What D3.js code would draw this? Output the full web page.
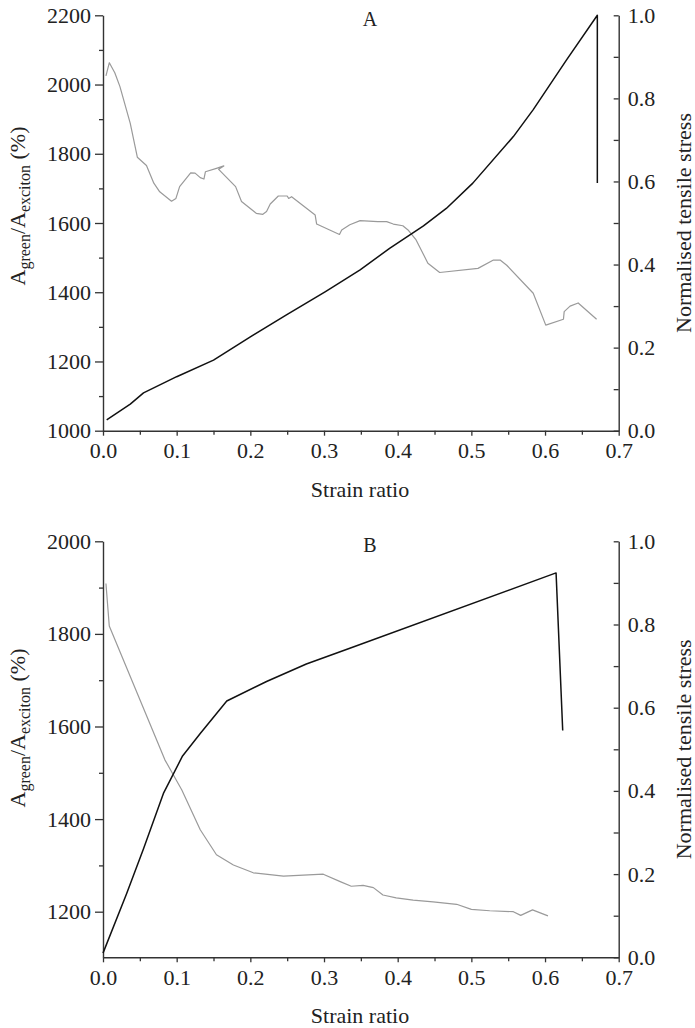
<!DOCTYPE html>
<html>
<head>
<meta charset="utf-8">
<script src="https://cdn.jsdelivr.net/npm/d3@7/dist/d3.min.js"></script>
<style>
  html, body { margin: 0; padding: 0; background: #fff; }
  svg { display: block; }
  svg text { font-family: 'Liberation Serif', 'Times New Roman', 'DejaVu Serif', serif !important; fill: #222; }
</style>
</head>
<body>
<svg id="chart" width="695" height="1028"></svg>
<script>
// ---------------- DATA ----------------
// Panel A
const aStressX = [0.005, 0.037, 0.055, 0.100, 0.150, 0.200, 0.249, 0.302, 0.349, 0.389, 0.435, 0.466, 0.502, 0.557, 0.584, 0.629, 0.671, 0.671];
const aStressY = [0.026, 0.064, 0.091, 0.130, 0.170, 0.226, 0.279, 0.335, 0.387, 0.439, 0.493, 0.535, 0.596, 0.708, 0.773, 0.892, 1.000, 0.596];
const aRatioX = [0.004, 0.0086, 0.016, 0.023, 0.037, 0.0466, 0.059, 0.069, 0.077, 0.093, 0.099, 0.104, 0.119, 0.125, 0.132, 0.137, 0.139, 0.154, 0.164, 0.157, 0.180, 0.188, 0.208, 0.217, 0.222, 0.227, 0.238, 0.250, 0.252, 0.256, 0.288, 0.290, 0.321, 0.324, 0.335, 0.349, 0.373, 0.385, 0.394, 0.407, 0.414, 0.425, 0.441, 0.457, 0.509, 0.530, 0.539, 0.548, 0.584, 0.601, 0.625, 0.626, 0.634, 0.645, 0.670];
const aRatioY = [2025, 2063, 2034, 1994, 1888, 1790, 1766, 1715, 1690, 1663, 1671, 1705, 1745, 1744, 1731, 1727, 1748, 1758, 1765, 1755, 1705, 1662, 1628, 1625, 1633, 1655, 1678, 1678, 1671, 1676, 1623, 1597, 1567, 1580, 1595, 1607, 1604, 1604, 1597, 1592, 1580, 1551, 1484, 1457, 1469, 1493, 1493, 1478, 1397, 1305, 1322, 1344, 1360, 1369, 1322];

// Panel B
const bStressX = [0.000, 0.032, 0.055, 0.082, 0.108, 0.132, 0.168, 0.222, 0.276, 0.335, 0.615, 0.624];
const bStressY = [0.010, 0.153, 0.261, 0.394, 0.484, 0.538, 0.616, 0.663, 0.705, 0.743, 0.924, 0.545];
const bRatioX = [0.004, 0.0085, 0.084, 0.107, 0.132, 0.154, 0.177, 0.204, 0.245, 0.299, 0.322, 0.337, 0.353, 0.367, 0.380, 0.398, 0.421, 0.448, 0.480, 0.500, 0.525, 0.557, 0.567, 0.583, 0.604];
const bRatioY = [1909, 1817, 1528, 1463, 1377, 1323, 1301, 1284, 1277, 1281, 1265, 1255, 1257, 1252, 1236, 1230, 1225, 1221, 1216, 1205, 1202, 1200, 1192, 1204, 1191];

// Ticks
const xTicks = [0.0, 0.1, 0.2, 0.3, 0.4, 0.5, 0.6, 0.7];
const xMinor = [0.05, 0.15, 0.25, 0.35, 0.45, 0.55, 0.65];
const aLeftTicks = [1000, 1200, 1400, 1600, 1800, 2000, 2200];
const aLeftMinor = [1100, 1300, 1500, 1700, 1900, 2100];
const bLeftTicks = [1200, 1400, 1600, 1800, 2000];
const bLeftMinor = [1300, 1500, 1700, 1900];
const rightTicks = [0.0, 0.2, 0.4, 0.6, 0.8, 1.0];
const rightMinor = [0.1, 0.3, 0.5, 0.7, 0.9];
const panelLabels = ["A", "B"];
const xTitle = "Strain ratio";
const rightTitle = "Normalised tensile stress";

// ---------------- DRAW ----------------
const svg = d3.select("#chart");
const FS = 22;
const FONT = "'Liberation Serif', 'Times New Roman', 'DejaVu Serif', serif";

function zip(xs, ys) { return xs.map((x, i) => [x, ys[i]]); }

function panel(cfg) {
  const x = d3.scaleLinear().domain([0, 0.7]).range([103, 618.7]);
  const yL = d3.scaleLinear().domain(cfg.leftDomain).range([cfg.bottom, cfg.top]);
  const yR = d3.scaleLinear().domain([0, 1]).range([cfg.bottom, cfg.top]);
  const g = svg.append("g").style("font-family", FONT);

  const styleAxis = sel => {
    sel.attr("font-family", null).style("font-family", FONT);
    sel.select(".domain").attr("stroke", "#333").attr("stroke-width", 1.4);
    sel.selectAll(".tick line").attr("stroke", "#333").attr("stroke-width", 1.3);
    sel.selectAll(".tick text").attr("font-size", FS).attr("fill", "#222").style("font-family", FONT);
  };
  const styleMinor = s => {
    s.select(".domain").remove();
    s.selectAll(".tick line").attr("stroke", "#333").attr("stroke-width", 1.3);
  };

  // bottom axis
  g.append("g").attr("transform", `translate(0,${cfg.bottom})`)
    .call(d3.axisBottom(x).tickValues(xTicks).tickFormat(d3.format(".1f")).tickSizeInner(5).tickSizeOuter(0).tickPadding(7))
    .call(styleAxis);
  g.append("g").attr("transform", `translate(0,${cfg.bottom})`)
    .call(d3.axisBottom(x).tickValues(xMinor).tickFormat("").tickSizeInner(4).tickSizeOuter(0))
    .call(styleMinor);

  // left axis
  g.append("g").attr("transform", `translate(103,0)`)
    .call(d3.axisLeft(yL).tickValues(cfg.leftTicks).tickFormat(d3.format("d")).tickSizeInner(8).tickSizeOuter(0).tickPadding(4))
    .call(styleAxis);
  g.append("g").attr("transform", `translate(103,0)`)
    .call(d3.axisLeft(yL).tickValues(cfg.leftMinor).tickFormat("").tickSizeInner(4).tickSizeOuter(0))
    .call(styleMinor);

  // right axis (ticks pointing inward)
  g.append("g").attr("transform", `translate(618.7,0)`)
    .call(d3.axisRight(yR).tickValues(rightTicks).tickFormat(d3.format(".1f")).tickSizeInner(-5).tickSizeOuter(0).tickPadding(9))
    .call(styleAxis);
  g.append("g").attr("transform", `translate(618.7,0)`)
    .call(d3.axisRight(yR).tickValues(rightMinor).tickFormat("").tickSizeInner(-5).tickSizeOuter(0))
    .call(styleMinor);

  // lines
  const lineL = d3.line().x(d => x(d[0])).y(d => yL(d[1]));
  const lineR = d3.line().x(d => x(d[0])).y(d => yR(d[1]));
  g.append("path").datum(zip(cfg.ratioX, cfg.ratioY)).attr("d", lineL)
    .attr("fill", "none").attr("stroke", "#9a9a9a").attr("stroke-width", 1.2).attr("stroke-linejoin", "round");
  g.append("path").datum(zip(cfg.stressX, cfg.stressY)).attr("d", lineR)
    .attr("fill", "none").attr("stroke", "#111").attr("stroke-width", 1.5).attr("stroke-linejoin", "round");

  // panel label
  g.append("text").attr("x", 370).attr("y", cfg.top + 11).attr("text-anchor", "middle")
    .attr("font-size", 20).text(cfg.label);

  // x title
  g.append("text").attr("x", 360).attr("y", cfg.bottom + 66).attr("text-anchor", "middle")
    .attr("font-size", FS).text(xTitle);

  // left title
  const lt = g.append("text").attr("transform", `translate(25,${cfg.leftTitleY}) rotate(-90)`)
    .attr("text-anchor", "middle").attr("font-size", FS);
  lt.append("tspan").text("A");
  lt.append("tspan").attr("font-size", 16).attr("dy", 5).text("green");
  lt.append("tspan").attr("dy", -5).text("/A");
  lt.append("tspan").attr("font-size", 16).attr("dy", 5).text("exciton");
  lt.append("tspan").attr("dy", -5).text(" (%)");

  // right title
  g.append("text").attr("transform", `translate(691,${(cfg.top + cfg.bottom) / 2}) rotate(-90)`)
    .attr("text-anchor", "middle").attr("font-size", FS).text(rightTitle);
}

panel({ top: 15.3, bottom: 430.7, leftDomain: [1000, 2200], leftTicks: aLeftTicks, leftMinor: aLeftMinor,
  stressX: aStressX, stressY: aStressY, ratioX: aRatioX, ratioY: aRatioY, label: panelLabels[0],
  leftTitleY: 206 });
panel({ top: 541.3, bottom: 957.3, leftDomain: [1101.5, 2000], leftTicks: bLeftTicks, leftMinor: bLeftMinor,
  stressX: bStressX, stressY: bStressY, ratioX: bRatioX, ratioY: bRatioY, label: panelLabels[1],
  leftTitleY: 728 });
</script>
</body>
</html>
